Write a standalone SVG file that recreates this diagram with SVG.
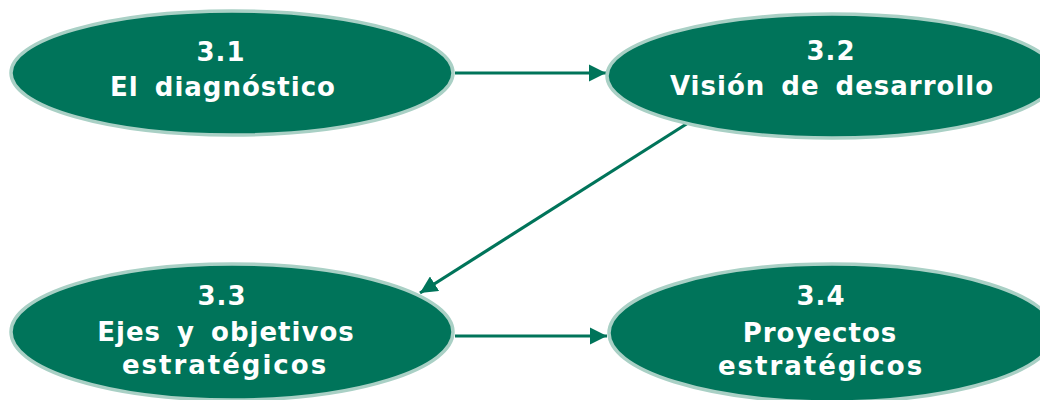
<svg xmlns="http://www.w3.org/2000/svg" width="1040" height="400" viewBox="0 0 1040 400">
<defs>
<style>
.node ellipse{fill:#00745a;stroke:#a9d0c5;stroke-width:3.5}
.node text{fill:#fff;font-family:"DejaVu Sans","Liberation Sans",Arial,sans-serif;font-weight:bold;font-size:26px;letter-spacing:1px;word-spacing:6px;text-anchor:middle}
.node text.wide{letter-spacing:2px}
.conn line{stroke:#00745a;stroke-width:3.2;fill:none}
</style>
<marker id="ah" viewBox="0 0 10 10" refX="10" refY="5" markerWidth="5.4" markerHeight="5.4" markerUnits="strokeWidth" orient="auto">
<path d="M0,0 L10,5 L0,10 Z" fill="#00745a"/>
</marker>
</defs>
<rect width="1040" height="400" fill="#fff"/>
<g class="conn">
<line x1="455" y1="73" x2="606" y2="73" marker-end="url(#ah)"/>
<line x1="688" y1="123" x2="420" y2="293" marker-end="url(#ah)"/>
<line x1="455" y1="336" x2="607" y2="336" marker-end="url(#ah)"/>
</g>
<g id="n31" class="node">
<ellipse cx="232" cy="73" rx="221" ry="62"/>
<text x="221" y="61">3.1</text>
<text x="223" y="96">El diagnóstico</text>
</g>
<g id="n32" class="node">
<ellipse cx="832" cy="76" rx="225" ry="62"/>
<text x="831" y="60">3.2</text>
<text x="832" y="95">Visión de desarrollo</text>
</g>
<g id="n33" class="node">
<ellipse cx="232" cy="332" rx="221" ry="68"/>
<text x="222" y="305">3.3</text>
<text x="226" y="341">Ejes y objetivos</text>
<text class="wide" x="225" y="374">estratégicos</text>
</g>
<g id="n34" class="node">
<ellipse cx="832" cy="333" rx="223" ry="69"/>
<text x="821" y="305">3.4</text>
<text x="820" y="342">Proyectos</text>
<text class="wide" x="821" y="375">estratégicos</text>
</g>
</svg>
